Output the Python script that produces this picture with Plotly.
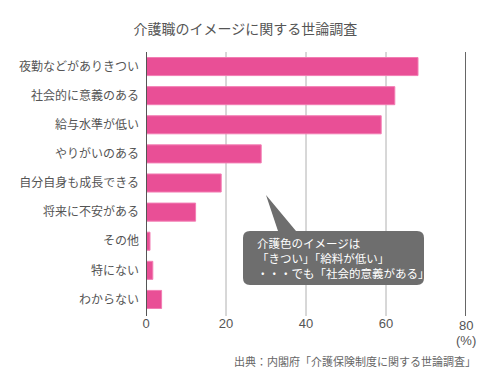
import plotly.graph_objects as go

categories = ["夜勤などがありきつい", "社会的に意義のある", "給与水準が低い", "やりがいのある",
              "自分自身も成長できる", "将来に不安がある", "その他", "特にない", "わからない"]
values = [68.0, 62.2, 58.8, 28.8, 18.8, 12.4, 1.0, 1.7, 3.9]
tick_vals = [0, 20, 40, 60, 80]
tick_text = ["0", "20", "40", "60", "80"]
callout_lines = ["介護色のイメージは", "「きつい」「給料が低い」", "・・・でも「社会的意義がある」"]

W, H = 501, 387
L, R, T, B = 146, 35, 52, 73
PW, PH = W - L - R, H - T - B
FONT = "Noto Sans CJK JP"

def px(x):
    return (x - L) / PW

def py(y):
    return (H - B - y) / PH

fig = go.Figure(go.Bar(
    y=categories, x=values, orientation="h",
    marker=dict(color="#E94F96", line=dict(color="#F27DB3", width=1)),
    width=0.62, hoverinfo="skip",
))

fig.update_layout(
    width=W, height=H, margin=dict(l=L, r=R, t=T, b=B, autoexpand=False),
    paper_bgcolor="white", plot_bgcolor="white", showlegend=False,
    font=dict(family=FONT, color="#555", size=12),
    title=dict(text="介護職のイメージに関する世論調査", x=0.49, xanchor="center",
               y=1 - 29 / H, yanchor="middle", font=dict(size=14, color="#555", family=FONT)),
    xaxis=dict(range=[0, 80], tickvals=tick_vals[:-1], ticktext=tick_text[:-1], showgrid=False,
               zeroline=False, showline=False, automargin=False,
               ticks="", tickfont=dict(size=13, color="#555", family="Liberation Sans"),
               fixedrange=True),
    yaxis=dict(categoryorder="array", categoryarray=categories, autorange="reversed",
               showgrid=False, zeroline=False, showline=False, ticks="", automargin=False,
               ticklabelstandoff=6, tickfont=dict(size=12, color="#555", family=FONT),
               fixedrange=True),
)

shapes = []
for v in tick_vals[1:-1]:
    shapes.append(dict(type="line", xref="x", yref="paper", x0=v, x1=v, y0=py(316), y1=1,
                       line=dict(color="#B0B0B0", width=1), layer="below"))
# zero axis line and 80 line
shapes.append(dict(type="line", xref="x", yref="paper", x0=0, x1=0, y0=py(316), y1=1,
                   line=dict(color="#555", width=2)))
shapes.append(dict(type="line", xref="x", yref="paper", x0=80, x1=80, y0=py(316), y1=1,
                   line=dict(color="#333", width=1.5)))

# callout box with pointer
x0, x1, y0, y1, r = 243, 424, 231, 285, 7
tip = (266, 195)
b1, b2 = 278, 296
pts = [
    f"M {px(x0 + r)},{py(y0)}",
    f"L {px(b1)},{py(y0)}",
    f"L {px(tip[0])},{py(tip[1])}",
    f"L {px(b2)},{py(y0)}",
    f"L {px(x1 - r)},{py(y0)}",
    f"Q {px(x1)},{py(y0)} {px(x1)},{py(y0 + r)}",
    f"L {px(x1)},{py(y1 - r)}",
    f"Q {px(x1)},{py(y1)} {px(x1 - r)},{py(y1)}",
    f"L {px(x0 + r)},{py(y1)}",
    f"Q {px(x0)},{py(y1)} {px(x0)},{py(y1 - r)}",
    f"L {px(x0)},{py(y0 + r)}",
    f"Q {px(x0)},{py(y0)} {px(x0 + r)},{py(y0)}",
    "Z",
]
shapes.append(dict(type="path", xref="paper", yref="paper", path=" ".join(pts),
                   fillcolor="#6E6E6E", line=dict(width=0)))
fig.update_layout(shapes=shapes)

annotations = []
for i, line in enumerate(callout_lines):
    annotations.append(dict(text=line, xref="paper", yref="paper", x=px(255), y=py(243 + 15 * i),
                            xanchor="left", yanchor="middle", align="left", showarrow=False,
                            font=dict(size=11.5, color="white", family=FONT)))
annotations += [
    dict(text="(%)", xref="paper", yref="paper", x=px(466), y=py(340), xanchor="center",
         yanchor="middle", showarrow=False, font=dict(size=13, color="#555", family="Liberation Sans")),
    dict(text="出典：内閣府「介護保険制度に関する世論調査」", xref="paper", yref="paper",
         x=px(478), y=py(361), xanchor="right", yanchor="middle", showarrow=False,
         font=dict(size=11, color="#666", family=FONT)),
    dict(text="80", xref="x", yref="paper", x=80, y=py(325), xanchor="center",
         yanchor="middle", showarrow=False, font=dict(size=13, color="#555", family="Liberation Sans")),
]
fig.update_layout(annotations=annotations)

fig.write_html("out.html", config={"displayModeBar": False},
               post_script="document.body.style.margin='0';document.body.style.overflow='hidden';")
